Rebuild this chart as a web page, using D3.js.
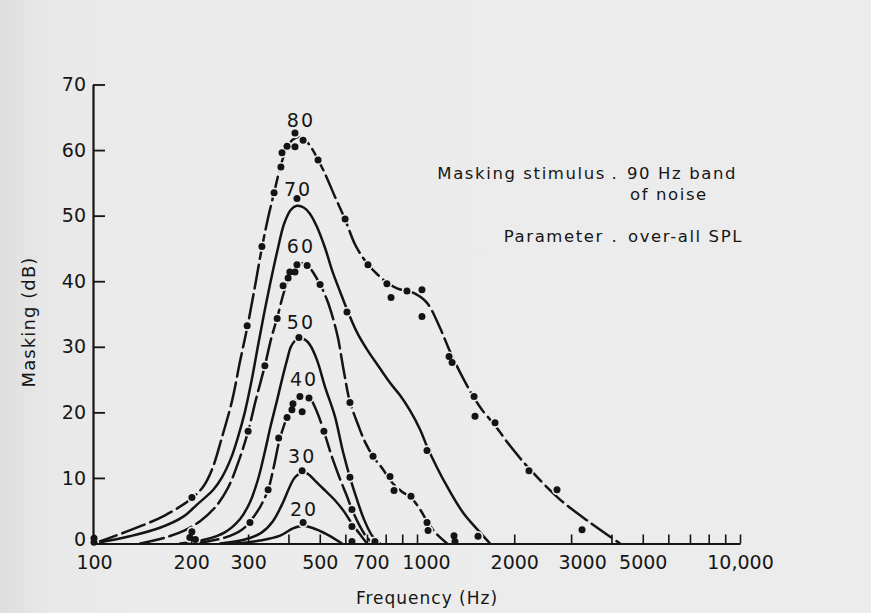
<!DOCTYPE html>
<html>
<head>
<meta charset="utf-8">
<script src="https://cdn.jsdelivr.net/npm/d3@7"></script>
<style>
  html, body { margin: 0; padding: 0; background: #ebebeb; }
  svg { display: block; }
  text { font-family: "DejaVu Sans", "Lato", sans-serif; font-weight: 400; fill: #161616; }
</style>
</head>
<body>
<svg id="chart" width="871" height="613"></svg>
<script>
// Masking curves: frequency (Hz) vs masking (dB), one curve per over-all SPL of the masker.
const levels = [80, 70, 60, 50, 40, 30, 20];

// Smooth fitted curves, [Hz, dB]
const curve80 = [[100,0],[129,2.0],[166,4.3],[201,6.9],[218,8.7],[232,11.3],[249,16.2],[268,21.9],[283,27.7],[298,32.9],[315,39.2],[331,45.1],[346,49.7],[361,53.5],[377,57.3],[393,60.0],[413,61.6],[434,62.0],[457,61.2],[476,60.0],[494,58.5],[519,56.4],[557,52.9],[599,49.4],[643,45.6],[680,43.6],[715,42.2],[752,41.1],[807,39.8],[867,38.9],[931,38.5],[986,38.1],[1074,36.7],[1178,32.9],[1257,29.6],[1359,26.1],[1502,22.2],[1589,20.4],[1744,18.0],[1941,14.9],[2238,11.3],[2772,6.7],[3433,3.2],[4251,0]];
const curve70 = [[100,0],[129,1.1],[160,2.4],[189,4.1],[208,5.9],[234,8.2],[249,10.1],[266,13.1],[279,16.2],[293,20.0],[308,25.0],[322,30.2],[336,35.0],[351,39.6],[369,44.5],[388,48.8],[407,50.9],[425,51.5],[447,51.2],[466,50.3],[490,48.3],[519,45.1],[549,41.3],[578,38.4],[607,35.7],[652,32.2],[700,29.6],[758,27.1],[825,24.5],[886,22.6],[951,20.3],[1022,17.4],[1074,14.8],[1153,11.6],[1239,8.7],[1389,4.7],[1567,1.7],[1683,0]];
const curve60 = [[139,0],[166,0.9],[191,2.0],[213,3.4],[237,5.5],[260,8.5],[283,13.1],[300,17.1],[317,21.9],[338,27.1],[353,31.1],[369,34.4],[385,37.9],[399,40.2],[413,41.7],[434,42.7],[457,42.5],[476,41.4],[501,39.5],[526,37.2],[549,34.4],[569,31.4],[594,26.2],[620,21.6],[657,18.1],[690,15.5],[731,13.3],[785,11.3],[837,9.3],[898,7.9],[958,7.0],[1022,5.2],[1074,3.4],[1137,1.7],[1239,0]];
const curve50 = [[185,0],[221,0.6],[254,1.7],[283,3.7],[304,6.3],[322,9.8],[338,14.0],[353,18.1],[369,21.9],[382,25.0],[396,28.0],[407,30.0],[419,30.9],[434,31.2],[450,31.1],[466,30.3],[490,28.0],[519,23.9],[557,19.4],[590,14.0],[620,10.1],[652,6.7],[685,3.7],[726,1.2],[768,0]];
const curve40 = [[205,0],[254,0.9],[287,2.1],[308,3.7],[327,5.6],[346,8.2],[361,11.9],[374,15.5],[388,18.1],[404,20.3],[422,21.8],[444,22.4],[466,22.1],[487,20.4],[515,17.1],[542,13.6],[578,9.8],[607,7.2],[629,5.2],[666,2.6],[700,0.9],[731,0]];
const curve30 = [[246,0],[293,0.6],[331,1.7],[358,3.4],[385,6.3],[404,8.7],[419,10.1],[438,10.8],[457,10.7],[483,9.6],[519,8.1],[557,6.6],[594,4.9],[629,3.0],[666,1.4],[700,0]];
const curve20 = [[273,0],[331,0.5],[377,1.2],[413,2.3],[444,2.7],[473,2.4],[526,1.4],[586,0]];

// Measured points, [Hz, dB]
const dots80 = [[100,0.8],[201,7.0],[298,33.2],[331,45.3],[361,53.5],[379,57.4],[382,59.6],[396,60.6],[419,60.5],[419,62.6],[444,61.5],[494,58.5],[599,49.5],[705,42.5],[807,39.6],[831,37.5],[931,38.5],[1036,38.7],[1036,34.6],[1257,28.5],[1284,27.6],[1502,22.4],[1512,19.4],[1744,18.4],[2222,11.1],[2713,8.2],[3243,2.1]];
const dots70 = [[100,0.2],[425,52.6],[607,35.3],[1074,14.2],[1545,1.1]];
const dots60 = [[201,1.8],[300,17.1],[338,27.1],[369,34.3],[385,39.3],[399,40.5],[404,41.4],[419,41.4],[425,42.5],[457,42.4],[501,39.5],[620,21.5],[731,13.3],[825,10.2],[849,8.1],[958,7.2],[1074,3.2],[1082,2.0],[1302,1.2],[1311,0.3]];
const dots50 = [[198,0.9],[431,31.4],[620,10.1],[741,0.3]];
const dots40 = [[206,0.6],[304,3.2],[346,8.2],[373,16.1],[396,19.2],[410,20.4],[413,21.3],[441,20.1],[434,22.4],[463,22.2],[515,17.1],[629,5.2]];
const dots30 = [[441,11.1],[629,2.6]];
const dots20 = [[444,3.2],[629,0.3]];

// Axis ticks and labels
const freqTicks = [100,200,300,400,500,600,700,800,900,1000,2000,3000,4000,5000,6000,7000,8000,9000,10000];
const freqLabels = [100,200,300,500,700,1000,2000,3000,5000,10000];
const dbTicks = [0,10,20,30,40,50,60,70];

const curves = [curve80, curve70, curve60, curve50, curve40, curve30, curve20];
const dots = [dots80, dots70, dots60, dots50, dots40, dots30, dots20];

const W = 871, H = 613;
const INK = "#141414", PAPER = "#ebebeb";

const svg = d3.select("#chart");

// paper, slightly darker towards the left edge
const defs = svg.append("defs");
const grad = defs.append("linearGradient").attr("id", "paper").attr("x1", 0).attr("x2", 1).attr("y1", 0).attr("y2", 0);
grad.append("stop").attr("offset", 0).attr("stop-color", "#dedede");
grad.append("stop").attr("offset", 0.05).attr("stop-color", "#e8e8e8");
grad.append("stop").attr("offset", 0.15).attr("stop-color", PAPER);
grad.append("stop").attr("offset", 1).attr("stop-color", "#ececec");
svg.append("rect").attr("width", W).attr("height", H).attr("fill", "url(#paper)");

const x = d3.scaleLog().domain([100, 10000]).range([94, 740]);
const y = d3.scaleLinear().domain([0, 70]).range([543.5, 84.5]);

const line = d3.line()
  .x(d => x(d[0]))
  .y(d => y(d[1]))
  .curve(d3.curveCatmullRom.alpha(0.5));

const dashed = new Set([80, 60, 40]);

const plot = svg.append("g");

// fitted curves
plot.selectAll("path.curve")
  .data(curves)
  .join("path")
  .attr("class", "curve")
  .attr("d", line)
  .attr("fill", "none")
  .attr("stroke", INK)
  .attr("stroke-width", 2.5)
  .attr("stroke-linecap", "round")
  .attr("stroke-dasharray", (d, i) => dashed.has(levels[i]) ? "24 6" : null);

// measured points: a paper-coloured disc breaks the line around each dot
const allDots = dots.flat();
plot.append("g")
  .selectAll("circle")
  .data(allDots)
  .join("circle")
  .attr("cx", d => x(d[0]))
  .attr("cy", d => y(d[1]))
  .attr("r", 5.2)
  .attr("fill", PAPER);
plot.append("g")
  .selectAll("circle")
  .data(allDots)
  .join("circle")
  .attr("cx", d => x(d[0]))
  .attr("cy", d => y(d[1]))
  .attr("r", 3.5)
  .attr("fill", INK);

// curve parameter labels above each peak
levels.forEach((lv, i) => {
  const peak = d3.greatest(curves[i], d => d[1]);
  plot.append("text")
    .attr("x", x(peak[0]) + 1)
    .attr("y", y(peak[1]) - 17)
    .attr("dy", "0.36em")
    .attr("text-anchor", "middle")
    .attr("font-size", 19)
    .attr("letter-spacing", "2px")
    .text(lv);
});

// axes
const labelNudge = { 700: 4, 1000: 9, 3000: 11 };
const fmtFreq = d => d === 10000 ? "10,000" : String(d);

const xAxis = d3.axisBottom(x)
  .tickValues(freqTicks)
  .tickSize(-9)
  .tickSizeOuter(0)
  .tickPadding(12)
  .tickFormat(d => freqLabels.includes(d) ? fmtFreq(d) : "");

const gx = svg.append("g")
  .attr("transform", `translate(0,${y(0)})`)
  .call(xAxis);
gx.attr("font-size", null).attr("font-family", null);
gx.select(".domain").attr("stroke", INK).attr("stroke-width", 2.2);
gx.selectAll(".tick line").attr("stroke", INK).attr("stroke-width", 1.6);
gx.selectAll(".tick text")
  .attr("font-size", 19)
  .attr("fill", INK)
  .attr("dx", d => labelNudge[d] || 0);

const yAxis = d3.axisLeft(y)
  .tickValues(dbTicks)
  .tickSize(-12)
  .tickSizeOuter(0)
  .tickPadding(7);

const gy = svg.append("g")
  .attr("transform", `translate(${x(100) - 1},0)`)
  .call(yAxis);
gy.attr("font-size", null).attr("font-family", null);
gy.select(".domain").attr("stroke", INK).attr("stroke-width", 2.2);
gy.selectAll(".tick line").attr("stroke", INK).attr("stroke-width", 1.8);
gy.selectAll(".tick text")
  .attr("font-size", 19)
  .attr("fill", INK)
  .attr("y", d => d === 0 ? -4 : 0);

// axis titles
svg.append("text")
  .attr("x", 427).attr("y", 604)
  .attr("text-anchor", "middle")
  .attr("font-size", 17)
  .attr("letter-spacing", "1px")
  .text("Frequency (Hz)");

svg.append("text")
  .attr("transform", "translate(35,322) rotate(-90)")
  .attr("text-anchor", "middle")
  .attr("font-size", 18)
  .attr("letter-spacing", "1.1px")
  .text("Masking (dB)");

// annotation
const note = svg.append("g").attr("font-size", 16.5).attr("letter-spacing", "1.6px");
note.append("text").attr("x", 606).attr("y", 179).attr("text-anchor", "end").text("Masking stimulus");
note.append("text").attr("x", 615).attr("y", 179).attr("text-anchor", "middle").text(".");
note.append("text").attr("x", 627).attr("y", 179).text("90 Hz band");
note.append("text").attr("x", 630).attr("y", 200).text("of noise");
note.append("text").attr("x", 604).attr("y", 242).attr("text-anchor", "end").text("Parameter");
note.append("text").attr("x", 615).attr("y", 242).attr("text-anchor", "middle").text(".");
note.append("text").attr("x", 628).attr("y", 242).text("over-all SPL");
</script>
</body>
</html>
